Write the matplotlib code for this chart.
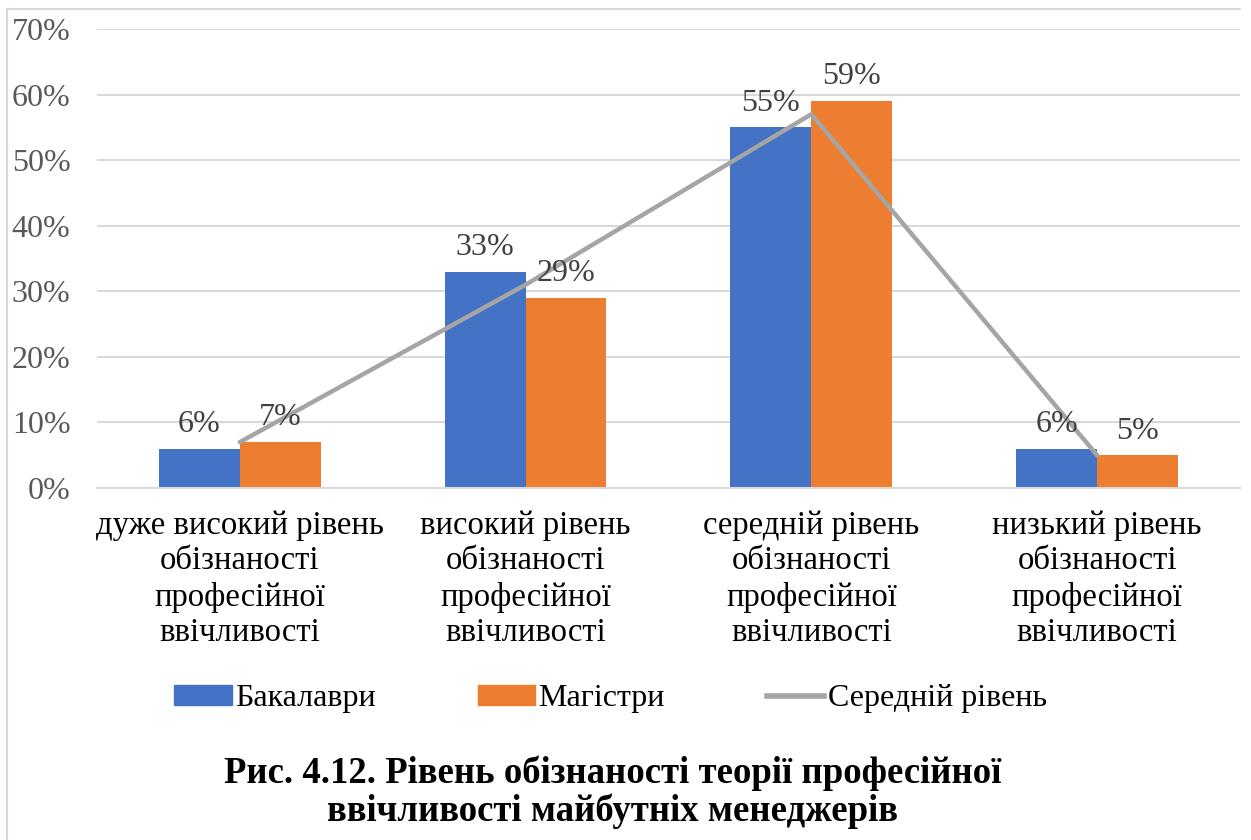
import numpy as np
import matplotlib.pyplot as plt
from matplotlib.patches import Patch
from matplotlib.lines import Line2D

plt.rcParams['font.family'] = ['Liberation Serif', 'DejaVu Serif']

# Data
categories = [
    "дуже високий рівень\nобізнаності\nпрофесійної\nввічливості",
    "високий рівень\nобізнаності\nпрофесійної\nввічливості",
    "середній рівень\nобізнаності\nпрофесійної\nввічливості",
    "низький рівень\nобізнаності\nпрофесійної\nввічливості",
]
bachelors = [6, 33, 55, 6]
masters = [7, 29, 59, 5]
average = [7, 31, 57, 5]
series_names = ["Бакалаври", "Магістри", "Середній рівень"]
title_text = "Рис. 4.12. Рівень обізнаності теорії професійної\nввічливості майбутніх менеджерів"

blue = '#4472C4'
orange = '#ED7D31'
gray = '#A5A5A5'

fig = plt.figure(figsize=(12.51, 8.4), dpi=100)
ax = fig.add_axes([0.0775, 0.419, 0.9137, 0.5465])

x = np.arange(len(categories))
w = 0.283
b1 = ax.bar(x - w / 2, np.array(bachelors) / 100, w, color=blue, zorder=2)
b2 = ax.bar(x + w / 2, np.array(masters) / 100, w, color=orange, zorder=2)
ax.plot(x, np.array(average) / 100, color=gray, lw=3.2, zorder=3,
        solid_capstyle='round')

# value labels above the bars
for bars, vals in ((b1, bachelors), (b2, masters)):
    for rect, v in zip(bars, vals):
        ax.annotate(f"{v}%", (rect.get_x() + rect.get_width() / 2, v / 100),
                    xytext=(0, 7), textcoords='offset points',
                    ha='center', va='bottom', fontsize=23, color='#404040',
                    zorder=4)

ax.set_xlim(-0.5, 3.5)
ax.set_ylim(0, 0.7)
ax.set_yticks(np.arange(0, 0.71, 0.1))
ax.set_yticklabels([f"{int(round(t * 100))}%" for t in np.arange(0, 0.71, 0.1)])
ax.set_xticks(x)
ax.set_xticklabels(categories, fontsize=23.5, color='black', linespacing=1.22)
ax.tick_params(axis='y', labelsize=23, labelcolor='#595959', length=0, pad=19)
ax.tick_params(axis='x', length=0, pad=16)
ax.grid(axis='y', color='#D9D9D9', lw=1.5, zorder=0)
for s in ('top', 'right', 'left'):
    ax.spines[s].set_visible(False)
ax.spines['bottom'].set_color('#D9D9D9')
ax.spines['bottom'].set_linewidth(1.5)

# legend
handles = [Patch(color=blue), Patch(color=orange),
           Line2D([], [], color=gray, lw=4)]
fig.legend(handles, series_names, loc='center', bbox_to_anchor=(0.488, 0.168),
           ncol=3, frameon=False, fontsize=23, handlelength=1.8,
           handleheight=0.6, handletextpad=0.1, columnspacing=3.2)

# caption
fig.text(0.49, 0.057, title_text, ha='center', va='center', fontsize=26.5,
         fontweight='bold', linespacing=1.1)

# outer frame
fig.add_artist(Line2D([7 / 1251, 7 / 1251], [0, 1 - 9 / 840], color='#D9D9D9',
                      lw=1.5, transform=fig.transFigure))
fig.add_artist(Line2D([7 / 1251, 1240 / 1251], [1 - 9 / 840, 1 - 9 / 840],
                      color='#D9D9D9', lw=1.5, transform=fig.transFigure))

fig.savefig('out.png', dpi=100)
